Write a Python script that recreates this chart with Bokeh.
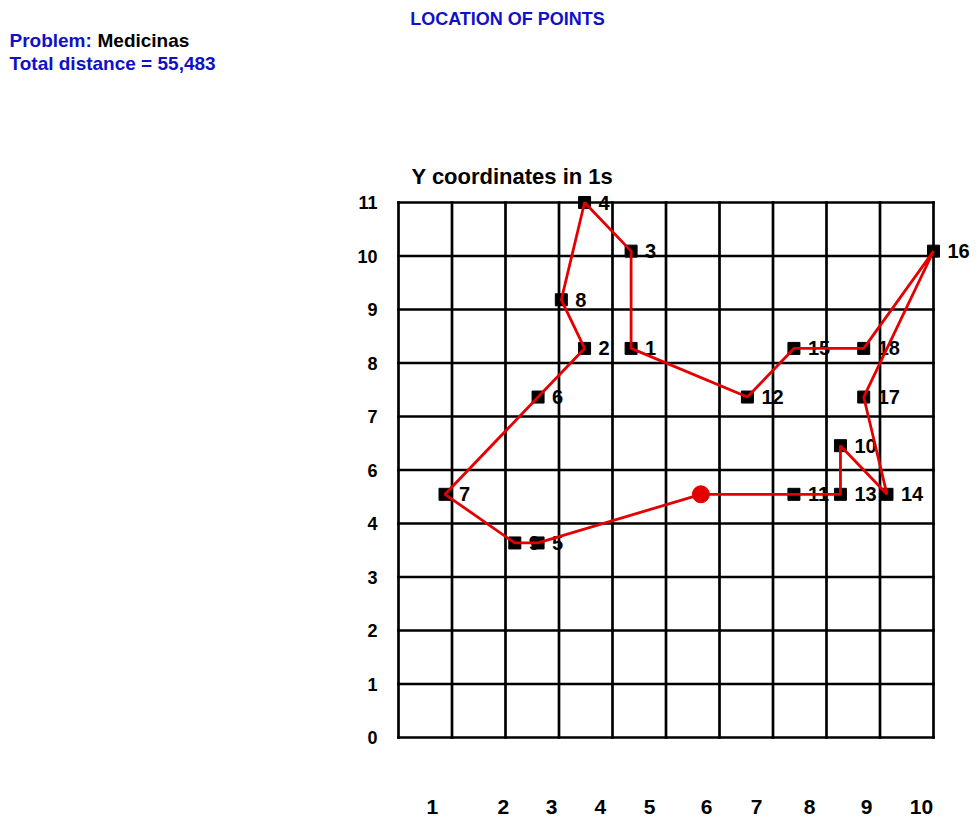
from bokeh.plotting import figure
from bokeh.models import Range1d, Label
from bokeh.core.properties import value
from bokeh.embed import file_html
from bokeh.resources import INLINE

# ---- data ----
point_ids = ["1", "2", "3", "4", "5", "6", "7", "8", "9",
             "10", "11", "12", "13", "14", "15", "16", "17", "18"]
point_x = [10, 8, 10, 8, 6, 6, 2, 7, 5, 19, 17, 15, 19, 21, 17, 23, 20, 20]
point_y = [8, 8, 10, 11, 4, 7, 5, 9, 4, 6, 5, 7, 5, 5, 8, 10, 7, 8]
depot_x = [13]
depot_y = [5]
route = ["D", "11", "13", "10", "14", "17", "16", "18", "15", "12",
         "1", "3", "4", "8", "2", "6", "7", "9", "5", "D"]

x_grid = [0, 2.3, 4.6, 6.9, 9.2, 11.5, 13.8, 16.1, 18.4, 20.7, 23]
y_grid = [0, 1.1, 2.2, 3.3, 4.4, 5.5, 6.6, 7.7, 8.8, 9.9, 11]
y_tick_labels = ["0", "1", "2", "3", "4", "6", "7", "8", "9", "10", "11"]
x_tick_labels = ["1", "2", "3", "4", "5", "6", "7", "8", "9", "10"]
x_tick_pos = [1.46, 4.51, 6.58, 8.68, 10.79, 13.24, 15.39, 17.67, 20.12, 22.48]

title_text = "LOCATION OF POINTS"
problem_label = "Problem:"
problem_name = "Medicinas"
distance_text = "Total distance = 55,483"
y_title = "Y coordinates in 1s"

BLUE = "#1010c8"
RED = "#e40000"
FONT = "Liberation Sans"

W, H = 976, 820

# pixel helpers (plot box: x 398..933 <-> 0..23, y 737..202 <-> 0..11)
def dx(px):
    return (px - 398) / 535 * 23

def dy(py):
    return (737 - py) / 535 * 11

lookup = {pid: (x, y) for pid, x, y in zip(point_ids, point_x, point_y)}
lookup["D"] = (depot_x[0], depot_y[0])
route_x = [lookup[r][0] for r in route]
route_y = [lookup[r][1] for r in route]

p = figure(width=W, height=H, output_backend="svg", toolbar_location=None,
           x_range=Range1d(dx(0), dx(W)), y_range=Range1d(dy(H), dy(0)),
           x_axis_location=None, y_axis_location=None,
           min_border_left=0, min_border_right=0,
           min_border_top=0, min_border_bottom=0)
p.outline_line_color = None
p.grid.grid_line_color = None
p.background_fill_color = "white"
p.border_fill_color = "white"

# grid box
n_x = len(x_grid)
n_y = len(y_grid)
p.segment(x0=x_grid, y0=[y_grid[0]] * n_x, x1=x_grid, y1=[y_grid[-1]] * n_x,
          line_color="black", line_width=2.7, line_cap="square")
p.segment(x0=[x_grid[0]] * n_y, y0=y_grid, x1=[x_grid[-1]] * n_y, y1=y_grid,
          line_color="black", line_width=2.7, line_cap="square")

# y tick labels
p.text(x=[dx(377)] * n_y, y=y_grid, text=y_tick_labels,
       text_align="right", text_baseline="middle",
       text_font=value(FONT), text_font_style="bold",
       text_font_size="18px", text_color="black")

# x tick labels
p.text(x=x_tick_pos, y=[dy(806)] * len(x_tick_pos), text=x_tick_labels,
       text_align="center", text_baseline="middle",
       text_font=value(FONT), text_font_style="bold",
       text_font_size="21px", text_color="black")

# point labels (under the markers)
p.text(x=point_x, y=point_y, text=point_ids, x_offset=14,
       text_baseline="middle", text_align="left",
       text_font=value(FONT), text_font_style="bold",
       text_font_size="20px", text_color="black")

# points
p.scatter(point_x, point_y, marker="square", size=12,
          fill_color="black", line_color="black")

# route
p.line(route_x, route_y, line_color=RED, line_width=2.8)

# depot
p.scatter(depot_x, depot_y, marker="circle", size=17,
          fill_color=RED, line_color=RED)

# headers
def add_label(text, px, py, color, size, align="left"):
    p.add_layout(Label(x=dx(px), y=dy(py), text=text, text_color=color,
                       text_font=FONT, text_font_style="bold",
                       text_font_size=size, text_align=align,
                       text_baseline="middle"))

add_label(title_text, 507, 18, BLUE, "18px", "center")
add_label(problem_label, 9, 40, BLUE, "19px")
add_label(problem_name, 97, 40, "black", "19px")
add_label(distance_text, 9, 63, BLUE, "19px")
add_label(y_title, 411, 176, "black", "22px")

open("out.html", "w").write(file_html(p, INLINE))
